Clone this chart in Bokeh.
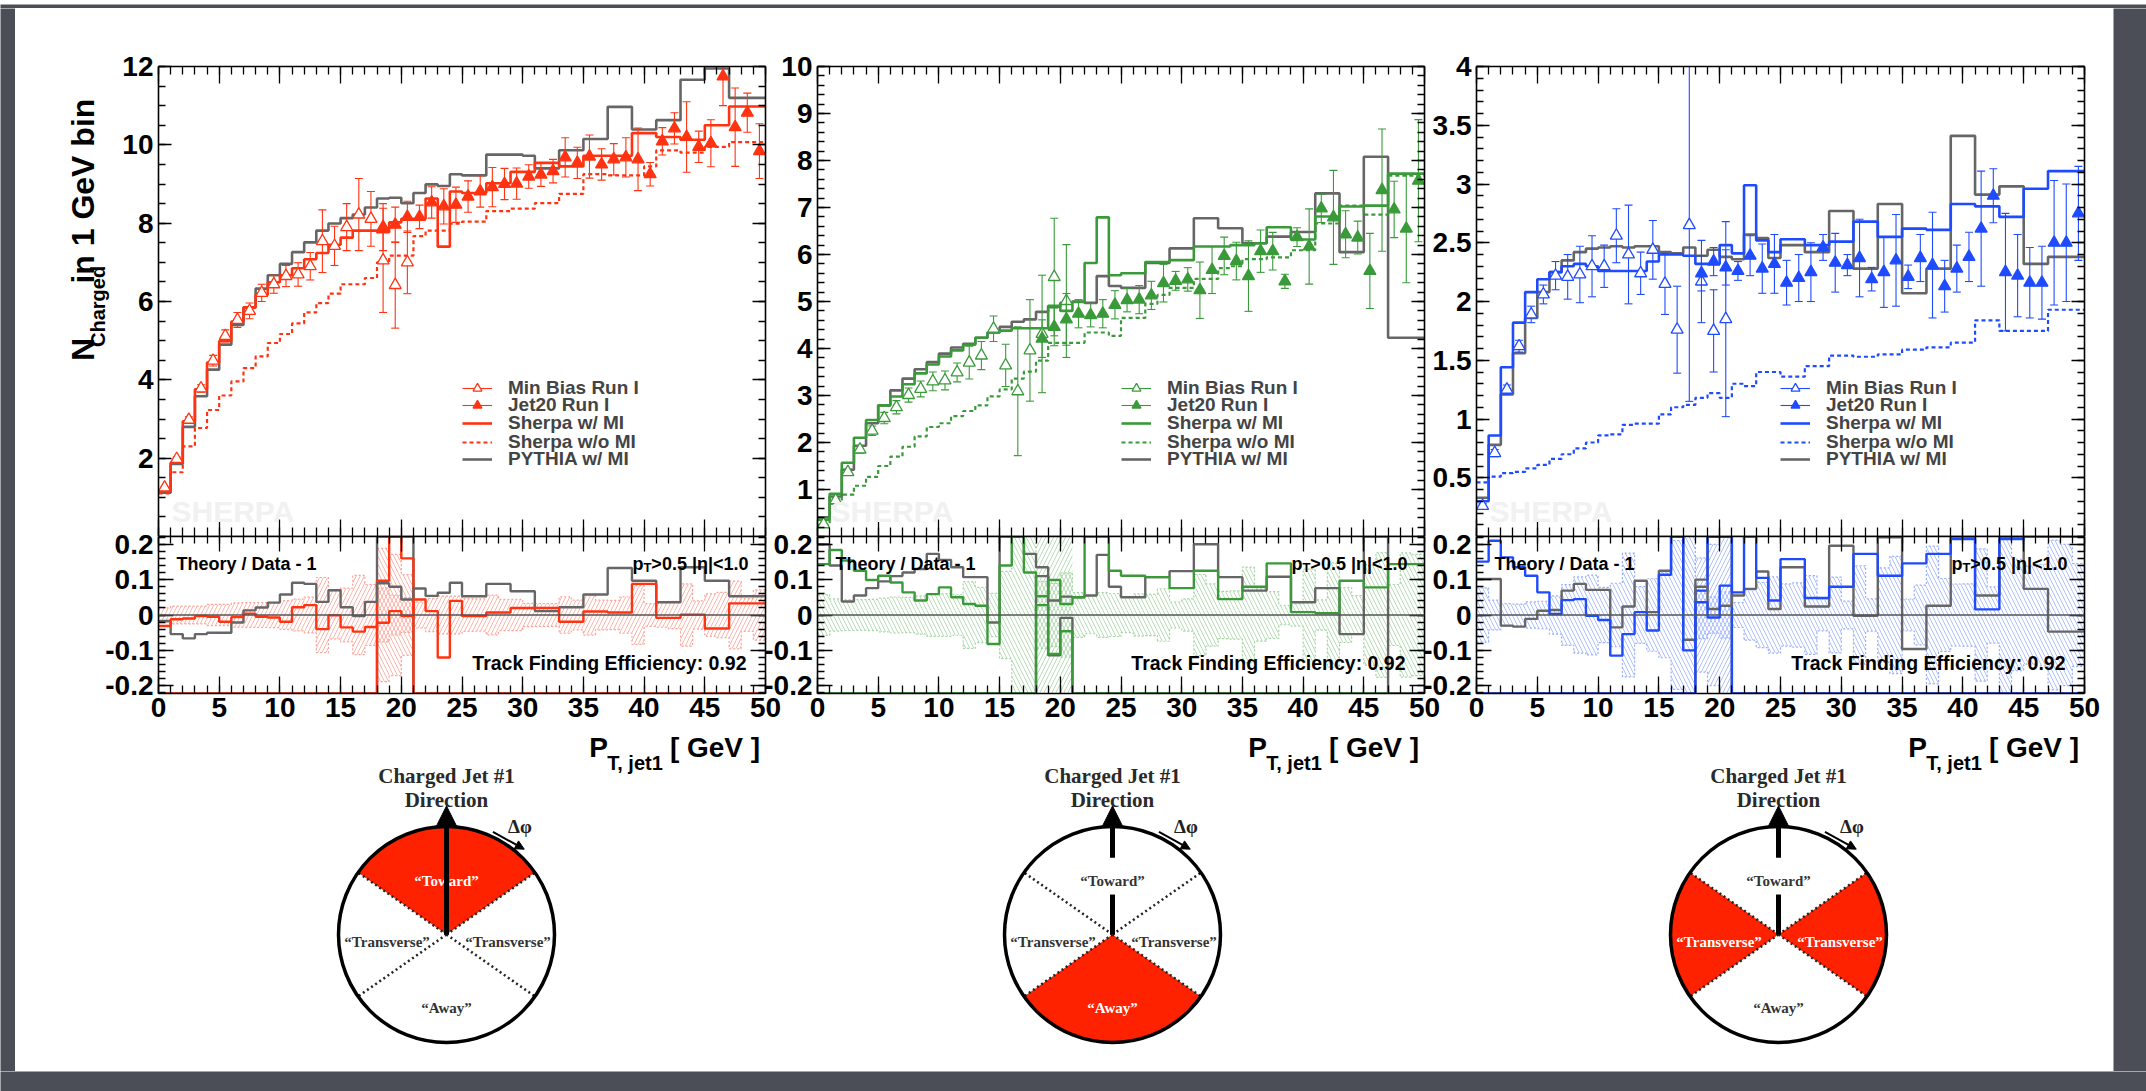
import numpy as np
from bokeh.plotting import figure
from bokeh.models import (Range1d, LinearAxis, FixedTicker, Label, Legend, LegendItem,
                          Span, Arrow, NormalHead, Spacer)
from bokeh.layouts import row, column
from bokeh.embed import file_html
from bokeh.resources import INLINE
from bokeh.core.properties import value

# ---------------------------------------------------------------- data
pt_edges = [0, 1, 2, 3, 4, 5, 6, 7, 8, 9, 10, 11, 12, 13, 14, 15, 16, 17, 18, 19, 20,
            21, 22, 23, 24, 25, 26, 27, 28, 29, 30, 31, 32, 33, 34, 35, 36, 37, 38, 39, 40,
            41, 42, 43, 44, 45, 46, 47, 48, 49, 50]
mb_pt = [0.5, 1.5, 2.5, 3.5, 4.5, 5.5, 6.5, 7.5, 8.5, 9.5, 10.5, 11.5, 12.5, 13.5, 14.5,
         15.5, 16.5, 17.5, 18.5, 19.5, 20.5]
j20_pt = [18.5, 19.5, 20.5, 21.5, 22.5, 23.5, 24.5, 25.5, 26.5, 27.5, 28.5, 29.5, 30.5,
          31.5, 32.5, 33.5, 34.5, 35.5, 36.5, 37.5, 38.5, 39.5, 40.5, 41.5, 42.5, 43.5,
          44.5, 45.5, 46.5, 47.5, 48.5, 49.5]

x_ticks = [0, 5, 10, 15, 20, 25, 30, 35, 40, 45, 50]
x_tick_labels = ["0", "5", "10", "15", "20", "25", "30", "35", "40", "45", "50"]
ratio_ticks = [-0.2, -0.1, 0, 0.1, 0.2]
ratio_tick_labels = ["-0.2", "-0.1", "0", "0.1", "0.2"]
p1_y_ticks = [2, 4, 6, 8, 10, 12]
p1_y_labels = ["2", "4", "6", "8", "10", "12"]
p2_y_ticks = [1, 2, 3, 4, 5, 6, 7, 8, 9, 10]
p2_y_labels = ["1", "2", "3", "4", "5", "6", "7", "8", "9", "10"]
p3_y_ticks = [0.5, 1, 1.5, 2, 2.5, 3, 3.5, 4]
p3_y_labels = ["0.5", "1", "1.5", "2", "2.5", "3", "3.5", "4"]

legend_labels = ["Min Bias Run I", "Jet20 Run I", "Sherpa w/ MI", "Sherpa w/o MI", "PYTHIA w/ MI"]
y_title = ["N", "Charged", "in 1 GeV bin"]
x_title = ["P", "T, jet1", "[ GeV ]"]

region_keys = ["Toward", "Transverse", "Away", "Transverse"]
region_texts = ["\u201cToward\u201d", "\u201cTransverse\u201d", "\u201cAway\u201d", "\u201cTransverse\u201d"]
region_start_deg = [35, 145, 215, -35]
region_end_deg = [145, 215, 325, 35]
divider_deg = [35, 145, 215, 325]
panel_region = ["Toward", "Away", "Transverse"]

# ---- panel 1 (Toward, red)
p1_sherpa_mi = [1.16, 1.89, 2.94, 3.76, 4.44, 4.99, 5.49, 5.85, 6.17, 6.49,
                6.67, 6.85, 7.08, 7.24, 7.45, 7.63, 7.81, 7.81, 7.77, 8.02,
                8.11, 8.11, 8.63, 7.40, 8.81, 8.77, 8.77, 9.02, 9.02, 9.31,
                9.31, 9.54, 9.54, 9.45, 9.45, 9.72, 9.72, 9.72, 9.72, 10.30,
                10.30, 10.20, 10.20, 10.13, 10.13, 10.50, 10.50, 10.98, 10.98, 10.98]
p1_sherpa_nomi = [1.10, 1.64, 2.30, 2.77, 3.23, 3.60, 3.96, 4.30, 4.60, 4.94,
                  5.17, 5.44, 5.72, 5.96, 6.20, 6.44, 6.44, 6.60, 7.00, 7.17,
                  7.17, 7.67, 7.81, 7.81, 7.99, 8.04, 8.04, 8.31, 8.31, 8.37,
                  8.37, 8.51, 8.51, 8.75, 8.75, 9.25, 9.25, 9.22, 9.22, 9.22,
                  9.45, 9.86, 9.86, 9.80, 9.80, 9.95, 9.95, 10.07, 10.07, 10.07]
p1_pythia = [1.12, 1.85, 2.80, 3.58, 4.26, 4.90, 5.40, 5.85, 6.33, 6.67,
             6.96, 7.26, 7.51, 7.81, 7.99, 8.13, 8.22, 8.40, 8.63, 8.65,
             8.51, 8.77, 8.99, 8.95, 9.25, 9.22, 9.22, 9.75, 9.75, 9.75,
             9.72, 9.40, 9.40, 9.86, 9.86, 10.15, 10.15, 10.97, 10.97, 10.39,
             10.39, 10.63, 10.63, 11.66, 11.66, 11.95, 11.95, 11.20, 11.20, 11.20]
p1_mb = [1.25, 1.98, 2.98, 3.78, 4.49, 5.12, 5.53, 5.76, 6.22, 6.44, 6.65, 6.69, 6.90,
         7.54, 7.42, 7.90, 8.22, 8.11, 7.05, 6.42, 7.00]
p1_mb_err = [0.025, 0.05, 0.075, 0.095, 0.135, 0.155, 0.19, 0.20, 0.22, 0.23, 0.27, 0.30,
             0.35, 0.80, 0.50, 0.60, 0.92, 0.70, 1.33, 1.10, 0.80]
p1_j20 = [7.90, 7.96, 8.16, 8.16, 8.53, 8.43, 8.47, 8.68, 8.81, 8.92, 9.00, 9.01, 9.19,
          9.24, 9.33, 9.68, 9.54, 9.70, 9.50, 9.63, 9.68, 9.63, 9.25, 10.09, 10.42, 10.20,
          9.95, 10.04, 11.75, 10.45, 10.82, 9.84]
p1_j20_err = [0.60, 0.45, 0.40, 0.30, 0.40, 0.45, 0.45, 0.40, 0.40, 0.50, 0.40, 0.40, 0.30,
              0.30, 0.30, 0.50, 0.40, 0.55, 0.40, 0.40, 0.50, 0.80, 0.30, 0.35, 0.40, 0.90,
              0.40, 0.60, 0.75, 1.00, 0.50, 0.70]
p1_ratio_sherpa = [-0.031, -0.012, -0.010, -0.003, -0.005, -0.019, -0.006, 0.004, -0.005, -0.007,
                   -0.019, 0.022, 0.028, -0.040, -0.001, -0.035, -0.047, -0.034, -0.022, 0.011,
                   -0.003, 0.044, 0.011, -0.120, 0.040, -0.003, -0.003, 0.007, 0.007, 0.020,
                   0.020, 0.020, 0.020, -0.019, -0.019, 0.010, 0.010, 0.007, 0.007, 0.088,
                   0.088, -0.008, -0.008, 0.001, 0.001, -0.038, -0.038, 0.033, 0.033, 0.033]
p1_ratio_pythia = [-0.017, -0.054, -0.066, -0.054, -0.050, -0.050, -0.021, 0.013, 0.021, 0.035,
                   0.058, 0.091, 0.088, 0.037, 0.070, 0.022, -0.003, 0.037, 0.090, 0.080,
                   0.044, 0.075, 0.054, 0.063, 0.091, 0.053, 0.053, 0.088, 0.088, 0.067,
                   0.067, 0.011, 0.011, 0.022, 0.022, 0.058, 0.058, 0.133, 0.133, 0.097,
                   0.097, 0.036, 0.036, 0.135, 0.135, 0.097, 0.097, 0.053, 0.053, 0.053]
p1_overlap_sherpa = [0.097, 0.30, 0.16]
p1_overlap_pythia = [0.30, 0.30, 0.30]

# ---- panel 2 (Away, green)
p2_sherpa_mi = [0.36, 0.91, 1.57, 2.10, 2.48, 2.79, 2.98, 3.24, 3.47, 3.66,
                3.83, 3.96, 4.08, 4.23, 4.34, 4.38, 4.43, 4.43, 4.43, 4.91,
                4.80, 4.99, 5.82, 6.79, 5.56, 5.60, 5.60, 5.84, 5.84, 5.88,
                5.88, 6.17, 6.17, 6.17, 6.20, 6.20, 6.24, 6.58, 6.58, 6.32,
                6.32, 6.81, 6.81, 7.02, 7.02, 7.04, 7.04, 7.72, 7.72, 7.72]
p2_sherpa_nomi = [0.24, 0.70, 0.89, 1.08, 1.27, 1.50, 1.70, 1.91, 2.13, 2.33,
                  2.41, 2.56, 2.67, 2.79, 2.98, 3.13, 3.36, 3.51, 3.74, 4.12,
                  4.12, 4.12, 4.34, 4.34, 4.27, 4.65, 4.65, 4.95, 5.14, 5.29,
                  5.29, 5.48, 5.48, 5.71, 5.75, 5.90, 5.90, 5.94, 5.94, 6.09,
                  6.09, 6.66, 6.66, 7.04, 7.04, 6.85, 6.85, 7.68, 7.68, 7.68]
p2_pythia = [0.41, 0.85, 1.42, 1.93, 2.41, 2.79, 3.11, 3.36, 3.56, 3.71,
             3.89, 4.02, 4.10, 4.23, 4.34, 4.46, 4.57, 4.62, 4.78, 4.89,
             4.97, 5.00, 4.97, 5.54, 5.33, 5.29, 5.29, 5.82, 5.82, 6.13,
             6.13, 6.77, 6.77, 6.56, 6.56, 6.24, 6.24, 6.38, 6.38, 6.48,
             6.48, 7.30, 7.30, 6.05, 6.05, 8.08, 8.08, 4.23, 4.23, 4.23]
p2_mb = [0.26, 0.77, 1.37, 1.85, 2.25, 2.52, 2.75, 3.01, 3.14, 3.30, 3.32, 3.49, 3.70,
         3.85, 4.42, 3.64, 3.09, 3.96, 4.31, 5.52, 5.01]
p2_mb_err = [0.015, 0.035, 0.06, 0.08, 0.10, 0.12, 0.14, 0.15, 0.17, 0.20, 0.20, 0.20,
             0.35, 0.30, 0.27, 0.45, 1.37, 1.08, 1.25, 1.25, 1.20]
p2_j20 = [4.21, 4.46, 4.62, 4.74, 4.71, 4.74, 4.93, 5.03, 5.04, 5.13, 5.39, 5.44, 5.47,
          5.24, 5.67, 5.97, 5.86, 5.54, 6.07, 6.07, 5.43, 6.37, 6.17, 6.98, 6.79, 6.43,
          6.36, 5.65, 7.37, 6.96, 6.55, 7.57]
p2_j20_err = [0.40, 0.40, 0.55, 0.30, 0.25, 0.30, 0.30, 0.25, 0.30, 0.30, 0.40, 0.20, 0.25,
              0.60, 0.50, 0.40, 0.40, 0.75, 0.45, 0.40, 0.15, 0.20, 0.80, 0.30, 1.00, 0.50,
              0.35, 0.80, 1.30, 0.60, 1.15, 1.30]
p2_ratio_sherpa = [0.144, 0.184, 0.154, 0.125, 0.099, 0.111, 0.092, 0.064, 0.041, 0.059,
                   0.078, 0.050, 0.031, 0.026, -0.082, 0.140, 0.30, 0.12, 0.053, 0.099,
                   0.031, 0.050, 0.30, 0.30, 0.125, 0.111, 0.111, 0.107, 0.107, 0.076,
                   0.076, 0.125, 0.125, 0.045, 0.045, 0.080, 0.080, 0.146, 0.146, 0.008,
                   0.008, 0.005, 0.005, 0.097, 0.097, 0.078, 0.078, 0.144, 0.144, 0.144]
p2_ratio_pythia = [0.20, 0.14, 0.038, 0.055, 0.076, 0.095, 0.11, 0.12, 0.13, 0.173,
                   0.156, 0.135, 0.107, 0.107, -0.021, 0.30, 0.30, 0.173, 0.135, 0.041,
                   0.052, 0.050, 0.055, 0.170, 0.080, 0.050, 0.050, 0.107, 0.107, 0.124,
                   0.124, 0.20, 0.20, 0.107, 0.107, 0.069, 0.069, 0.108, 0.108, 0.036,
                   0.036, 0.076, 0.076, -0.054, -0.054, 0.30, 0.30, -0.50, -0.50, -0.50]
p2_overlap_sherpa = [0.028, -0.110, -0.046]
p2_overlap_pythia = [0.110, -0.114, -0.008]

# ---- panel 3 (Transverse, blue)
p3_sherpa_mi = [0.30, 0.86, 1.44, 1.82, 2.08, 2.19, 2.25, 2.30, 2.32, 2.30,
                2.26, 2.26, 2.26, 2.26, 2.34, 2.40, 2.40, 2.39, 2.32, 2.32,
                2.48, 2.41, 2.99, 2.52, 2.42, 2.53, 2.53, 2.48, 2.48, 2.51,
                2.51, 2.68, 2.68, 2.55, 2.55, 2.62, 2.62, 2.61, 2.61, 2.83,
                2.83, 2.81, 2.81, 2.72, 2.72, 2.96, 2.96, 3.11, 3.11, 3.11]
p3_sherpa_nomi = [0.46, 0.51, 0.54, 0.55, 0.58, 0.61, 0.66, 0.70, 0.75, 0.80,
                  0.86, 0.87, 0.95, 0.96, 0.96, 1.04, 1.10, 1.12, 1.18, 1.22,
                  1.18, 1.30, 1.28, 1.40, 1.40, 1.36, 1.36, 1.45, 1.45, 1.54,
                  1.54, 1.53, 1.53, 1.55, 1.55, 1.59, 1.59, 1.61, 1.61, 1.65,
                  1.65, 1.84, 1.84, 1.75, 1.75, 1.75, 1.75, 1.93, 1.93, 1.93]
p3_pythia = [0.33, 0.78, 1.21, 1.56, 1.86, 2.08, 2.25, 2.35, 2.42, 2.45,
             2.46, 2.47, 2.46, 2.47, 2.47, 2.42, 2.41, 2.46, 2.39, 2.44,
             2.38, 2.36, 2.57, 2.54, 2.37, 2.48, 2.48, 2.42, 2.42, 2.77,
             2.77, 2.28, 2.28, 2.83, 2.83, 2.07, 2.07, 2.28, 2.28, 3.41,
             3.41, 2.91, 2.91, 2.98, 2.98, 2.32, 2.32, 2.38, 2.38, 2.38]
p3_mb = [0.26, 0.71, 1.25, 1.62, 1.89, 2.06, 2.22, 2.21, 2.23, 2.30, 2.30, 2.56, 2.40,
         2.24, 2.44, 2.15, 1.76, 2.65, 2.17, 1.75, 1.85]
p3_mb_err = [0.02, 0.03, 0.04, 0.05, 0.07, 0.08, 0.12, 0.19, 0.24, 0.26, 0.18, 0.23, 0.42,
             0.18, 0.25, 0.26, 0.37, 1.50, 0.35, 0.35, 0.83]
p3_j20 = [2.24, 2.34, 2.29, 2.26, 2.39, 2.28, 2.32, 2.16, 2.20, 2.25, 2.46, 2.33, 2.31,
          2.37, 2.19, 2.25, 2.35, 2.21, 2.37, 2.31, 2.13, 2.28, 2.38, 2.62, 2.90, 2.25,
          2.22, 2.16, 2.16, 2.50, 2.50, 2.75]
p3_j20_err = [0.15, 0.12, 0.15, 0.08, 0.17, 0.21, 0.25, 0.19, 0.20, 0.25, 0.11, 0.25, 0.09,
              0.33, 0.10, 0.30, 0.39, 0.10, 0.20, 0.45, 0.22, 0.20, 0.21, 0.49, 0.23, 0.50,
              0.35, 0.30, 0.31, 0.53, 0.50, 0.40]
p3_ratio_sherpa = [0.151, 0.21, 0.163, 0.135, 0.111, 0.064, 0.003, 0.042, 0.045, -0.002,
                   -0.014, -0.115, -0.054, 0.008, -0.044, 0.114, 0.30, -0.10, 0.036, -0.007,
                   0.083, 0.064, 0.30, 0.105, 0.041, 0.158, 0.158, 0.048, 0.048, 0.080,
                   0.080, 0.173, 0.173, 0.111, 0.111, 0.146, 0.146, 0.173, 0.173, 0.215,
                   0.215, 0.016, 0.016, 0.215, 0.215, 0.30, 0.30, 0.30, 0.30, 0.30]
p3_ratio_pythia = [0.102, 0.102, -0.030, -0.033, -0.011, 0.012, 0.014, 0.069, 0.088, 0.071,
                   0.071, -0.035, 0.024, 0.097, 0.008, 0.125, 0.30, -0.070, 0.080, 0.017,
                   0.026, 0.055, 0.074, 0.123, 0.017, 0.135, 0.135, 0.024, 0.024, 0.196,
                   0.196, -0.002, -0.002, 0.22, 0.22, -0.096, -0.096, 0.026, 0.026, 0.30,
                   0.30, 0.055, 0.055, 0.30, 0.30, 0.074, 0.074, -0.047, -0.047, -0.047]
p3_overlap_sherpa = [0.069, 0.30, 0.30]
p3_overlap_pythia = [0.100, 0.30, 0.29]

# ---------------------------------------------------------------- style
DARK = "#4b4e56"
GRAY = "#666666"
FONT = "Liberation Sans"
SERIF = "Liberation Serif"
RATIO_LO, RATIO_HI = -0.222, 0.222
x_minor = list(range(0, 51))
ratio_minor = [round(-0.22 + 0.02 * k, 2) for k in range(0, 23)]

MAIN_H, MAIN_TOP = 528, 58
RATIO_TOP = 12            # overlaps the main panel so the "0.2" label is not cut
RATIO_H, RATIO_BOTTOM = 195 + RATIO_TOP, 38
BOTTOM_H = 340
YTITLE_W = 100
DIAG_W = 248
XT_W = 186
LEGEND_ROW_Y = [148, 131, 113, 94, 77]   # row centres, px above the frame bottom
LEGEND_ROW_H = 22

panels = [
    dict(color="#ff3311", light="#ffa194", ymax=12, yt=p1_y_ticks, yl=p1_y_labels,
         ym=[round(v * 0.5, 2) for v in range(0, 25)],
         mi=p1_sherpa_mi, nomi=p1_sherpa_nomi, py=p1_pythia, mb=p1_mb, mb_err=p1_mb_err,
         j20=p1_j20, j20_err=p1_j20_err, r_mi=p1_ratio_sherpa, r_py=p1_ratio_pythia,
         o_mi=p1_overlap_sherpa, o_py=p1_overlap_pythia, hatch="/", hatch2="\\",
         L=143, R=30, FW=607, margin=None),
    dict(color="#3a9a3a", light="#a3d6a3", ymax=10, yt=p2_y_ticks, yl=p2_y_labels,
         ym=[round(v * 0.2, 2) for v in range(0, 51)],
         mi=p2_sherpa_mi, nomi=p2_sherpa_nomi, py=p2_pythia, mb=p2_mb, mb_err=p2_mb_err,
         j20=p2_j20, j20_err=p2_j20_err, r_mi=p2_ratio_sherpa, r_py=p2_ratio_pythia,
         o_mi=p2_overlap_sherpa, o_py=p2_overlap_pythia, hatch="\\", hatch2="/",
         L=60, R=30, FW=607, margin=(0, 0, 0, -38)),
    dict(color="#1f4bff", light="#98aeff", ymax=4, yt=p3_y_ticks, yl=p3_y_labels,
         ym=[round(v * 0.1, 2) for v in range(0, 41)],
         mi=p3_sherpa_mi, nomi=p3_sherpa_nomi, py=p3_pythia, mb=p3_mb, mb_err=p3_mb_err,
         j20=p3_j20, j20_err=p3_j20_err, r_mi=p3_ratio_sherpa, r_py=p3_ratio_pythia,
         o_mi=p3_overlap_sherpa, o_py=p3_overlap_pythia, hatch="\\", hatch2="/",
         L=60, R=29, FW=608, margin=(0, 0, 0, -38)),
]


def tick_overrides(ticks, labels):
    return {(int(t) if float(t).is_integer() else t): s for t, s in zip(ticks, labels)}


def make_axis(ticks, minor, major_in, minor_in, labels=None, standoff=5):
    ax = LinearAxis(ticker=FixedTicker(ticks=ticks, minor_ticks=minor))
    ax.axis_line_color = "black"
    ax.axis_line_width = 1.6
    ax.major_tick_in = major_in
    ax.major_tick_out = 0
    ax.minor_tick_in = minor_in
    ax.minor_tick_out = 0
    ax.major_tick_line_color = "black"
    ax.major_tick_line_width = 1.3
    ax.minor_tick_line_color = "black"
    ax.minor_tick_line_width = 1.3
    if labels is None:
        ax.major_label_text_font_size = "0px"
        ax.major_label_text_color = None
        ax.major_label_standoff = 0
    else:
        ax.major_label_overrides = tick_overrides(ticks, labels)
        ax.major_label_text_font = FONT
        ax.major_label_text_font_style = "bold"
        ax.major_label_text_font_size = "28px"
        ax.major_label_text_color = "black"
        ax.major_label_standoff = standoff
    return ax


def bare_fig(width, height, xr, yr, bg=None):
    f = figure(width=width, height=height, x_range=Range1d(*xr), y_range=Range1d(*yr),
               x_axis_location=None, y_axis_location=None, toolbar_location=None,
               output_backend="svg", min_border=0)
    f.grid.grid_line_color = None
    f.outline_line_color = None
    f.background_fill_color = bg
    f.border_fill_color = bg
    return f


def base_fig(width, height, ymin, ymax, L, R, T, B):
    p = figure(width=width, height=height, x_range=Range1d(0, 50), y_range=Range1d(ymin, ymax),
               x_axis_location=None, y_axis_location=None, toolbar_location=None,
               output_backend="svg", min_border_left=L, min_border_right=R,
               min_border_top=T, min_border_bottom=B)
    p.grid.grid_line_color = None
    p.outline_line_color = None
    p.border_fill_color = None
    p.background_fill_color = "white"
    return p


def steps(vals):
    return list(vals) + [vals[-1]]


def clip(vals):
    return [min(max(v, RATIO_LO), RATIO_HI) for v in vals]


def text(p, x, y, s, dx, dy, size, align="left", color="black", angle=0.0):
    p.add_layout(Label(x=x, y=y, x_offset=dx, y_offset=dy, text=s, text_font=FONT,
                       text_font_size=size, text_font_style="bold", text_align=align,
                       text_baseline="middle", text_color=color, angle=angle))


def make_main(P, i):
    L, R, FW = P["L"], P["R"], P["FW"]
    if i == 0:
        L -= YTITLE_W
    c = P["color"]
    p = base_fig(L + FW + R, MAIN_H, 0, P["ymax"], L, R, MAIN_TOP, 0)
    p.add_layout(make_axis(x_ticks, x_minor, 17, 8), "above")
    p.add_layout(make_axis(x_ticks, x_minor, 17, 9), "below")
    p.add_layout(make_axis(P["yt"], P["ym"], 13, 7, P["yl"]), "left")
    p.add_layout(make_axis(P["yt"], P["ym"], 13, 7), "right")

    text(p, 0, 0, "SHERPA", 13, 25, "30px", color="#f1f1f1")

    r_py = p.step(pt_edges, steps(P["py"]), mode="after", line_color=GRAY, line_width=2.6)
    r_nomi = p.step(pt_edges, steps(P["nomi"]), mode="after", line_color=c, line_width=2.2,
                    line_dash="4 3")
    r_mi = p.step(pt_edges, steps(P["mi"]), mode="after", line_color=c, line_width=2.6)

    def points(x, y, e, fill):
        lo = [a - b for a, b in zip(y, e)]
        hi = [a + b for a, b in zip(y, e)]
        seg = p.segment(x0=x, y0=lo, x1=x, y1=hi, line_color=c, line_width=1.1)
        p.scatter(x=list(x) + list(x), y=lo + hi, marker="dash", size=8, line_color=c,
                  line_width=1.1)
        sc = p.scatter(x=x, y=y, marker="triangle", size=12, line_color=c, line_width=1.3,
                       fill_color=fill)
        return seg, sc

    mb_seg, mb_sc = points(mb_pt, P["mb"], P["mb_err"], "white")
    j_seg, j_sc = points(j20_pt, P["j20"], P["j20_err"], c)

    entries = [[mb_seg, mb_sc], [j_seg, j_sc], [r_mi], [r_nomi], [r_py]]
    for lab, rends, yc in zip(legend_labels, entries, LEGEND_ROW_Y):
        leg = Legend(items=[LegendItem(label=value(lab), renderers=rends)],
                     location=(304, yc - LEGEND_ROW_H / 2), orientation="vertical",
                     padding=0, margin=0, spacing=0, glyph_width=30,
                     glyph_height=LEGEND_ROW_H, label_height=LEGEND_ROW_H,
                     label_standoff=16, label_text_font=FONT, label_text_font_style="bold",
                     label_text_font_size="19px", background_fill_alpha=0,
                     border_line_alpha=0)
        p.add_layout(leg)
    return p


def make_ytitle():
    # pixel-unit canvas for the rotated y-axis title of the first panel
    t = bare_fig(YTITLE_W, MAIN_H, (0, YTITLE_W), (0, MAIN_H))
    a = np.pi / 2
    text(t, 67.5, 210, y_title[0], 0, 0, "32px", align="center", angle=a)
    text(t, 82, 258.5, y_title[1], 0, 0, "20px", align="center", angle=a)
    text(t, 67.5, 388, y_title[2], 0, 0, "32px", align="center", angle=a)
    return t


def make_xtitle():
    # pixel-unit canvas holding the x-axis title under a ratio panel
    t = bare_fig(XT_W, BOTTOM_H, (0, XT_W), (0, BOTTOM_H))
    t.text(x=[131.5, 15], y=[324, 324], text=[x_title[2], x_title[0]],
           text_font=value(FONT), text_font_style="bold", text_font_size="28px",
           text_color="black", text_align="center", text_baseline="middle")
    t.text(x=[51.5], y=[309], text=[x_title[1]],
           text_font=value(FONT), text_font_style="bold", text_font_size="20px",
           text_color="black", text_align="center", text_baseline="middle")
    return t


def make_ratio(P, i):
    L, R, FW = P["L"], P["R"], P["FW"]
    c = P["color"]
    p = base_fig(L + FW + R, RATIO_H, RATIO_LO, RATIO_HI, L, R, RATIO_TOP, RATIO_BOTTOM)
    p.margin = (-RATIO_TOP, 0, 0, 0)
    p.add_layout(make_axis(x_ticks, x_minor, 15, 7), "above")
    p.add_layout(make_axis(x_ticks, x_minor, 17, 8, x_tick_labels, standoff=4), "below")
    p.add_layout(make_axis(ratio_ticks, ratio_minor, 15, 7, ratio_tick_labels), "left")
    p.add_layout(make_axis(ratio_ticks, ratio_minor, 15, 7), "right")

    mb_rel = [e / v for v, e in zip(P["mb"], P["mb_err"])]
    j_rel = [e / v for v, e in zip(P["j20"], P["j20_err"])]
    band_a = mb_rel[:18] + j_rel
    band_b = mb_rel[18:]
    p.quad(left=pt_edges[:-1], right=pt_edges[1:], bottom=[-b for b in band_a], top=band_a,
           fill_color=None, line_color=None, hatch_pattern=P["hatch"], hatch_color=P["light"],
           hatch_weight=0.8, hatch_scale=8)
    p.quad(left=pt_edges[18:21], right=pt_edges[19:22], bottom=[-b for b in band_b],
           top=band_b, fill_color=None, line_color=None, hatch_pattern=P["hatch2"],
           hatch_color=P["light"], hatch_weight=0.8, hatch_scale=8)
    for sgn in (1, -1):
        p.step(pt_edges, steps([sgn * b for b in band_a]), mode="after", line_color=P["light"],
               line_width=1.2, line_dash="2 2")
        p.step(pt_edges[18:22], steps([sgn * b for b in band_b]), mode="after",
               line_color=P["light"], line_width=1.2, line_dash="2 2")

    p.add_layout(Span(location=0, dimension="width", line_color="#555555", line_width=1.6))

    empty_lo = [-1.0] * 18
    empty_hi = [-1.0] * 29
    p.step(pt_edges, steps(clip(empty_lo + P["o_py"] + empty_hi)), mode="after",
           line_color=GRAY, line_width=2.4)
    p.step(pt_edges, steps(clip(empty_lo + P["o_mi"] + empty_hi)), mode="after",
           line_color=c, line_width=2.4)
    p.step(pt_edges, steps(clip(P["r_py"])), mode="after", line_color=GRAY, line_width=2.4)
    p.step(pt_edges, steps(clip(P["r_mi"])), mode="after", line_color=c, line_width=2.4)

    text(p, 0, RATIO_HI, "Theory / Data - 1", 18, -27, "18px")
    text(p, 50, RATIO_HI, ">0.5 |\u03b7|<1.0", -17, -27, "18px", align="right")
    text(p, 50, RATIO_HI, "T", -114, -31, "13px", align="right")
    text(p, 50, RATIO_HI, "p", -122, -27, "18px", align="right")
    text(p, 50, RATIO_LO, "Track Finding Efficiency: 0.92", -19, 31, "19.5px", align="right")
    return p


def make_diagram(region):
    half = DIAG_W / 2 / 108.0
    d = bare_fig(DIAG_W, BOTTOM_H, (-half, half), (-137 / 108.0, 203 / 108.0))
    for key, s, e in zip(region_keys, region_start_deg, region_end_deg):
        if key == region:
            d.wedge(x=0, y=0, radius=1, start_angle=np.radians(s), end_angle=np.radians(e),
                    fill_color="#ff2200", line_color=None)
    ang = np.radians(divider_deg)
    d.segment(x0=[0] * 4, y0=[0] * 4, x1=list(np.cos(ang)), y1=list(np.sin(ang)),
              line_color="#222222", line_width=2.5, line_dash="2 3")
    d.circle(x=0, y=0, radius=1, fill_color=None, line_color="black", line_width=3.5)
    head = NormalHead(size=20, fill_color="black", line_color="black")
    if region == "Toward":
        d.add_layout(Arrow(end=head, x_start=0, y_start=0, x_end=0, y_end=1.19,
                           line_width=5, line_color="black"))
    else:
        d.segment(x0=[0], y0=[0], x1=[0], y1=[0.37], line_color="black", line_width=5)
        d.add_layout(Arrow(end=head, x_start=0, y_start=0.71, x_end=0, y_end=1.19,
                           line_width=5, line_color="black"))
    d.add_layout(Arrow(end=NormalHead(size=9, fill_color="black", line_color="black"),
                       x_start=0.43, y_start=0.95, x_end=0.72, y_end=0.79,
                       line_width=2, line_color="black"))
    d.text(x=[0.68], y=[1.0], text=["\u0394\u03c6"], text_font=value(SERIF),
           text_font_style="bold", text_font_size="19px", text_color="#222222",
           text_align="center", text_baseline="middle")
    d.text(x=[0, 0], y=[1.47, 1.25], text=["Charged Jet #1", "Direction"],
           text_font=value(SERIF), text_font_style="bold", text_font_size="21px",
           text_color="#2a2a2a", text_align="center", text_baseline="middle")
    lab_x = [0, -0.55, 0, 0.57]
    lab_y = [0.5, -0.07, -0.68, -0.07]
    cols = ["white" if k == region else "#333333" for k in region_keys]
    d.text(x=lab_x, y=lab_y, text=region_texts, text_font=value(SERIF),
           text_font_style="bold", text_font_size="15px", text_color=cols,
           text_align="center", text_baseline="middle")
    return d


def dark_block(w, h):
    return bare_fig(w, h, (0, 1), (0, 1), bg=DARK)


cols = []
for i, P in enumerate(panels):
    main = make_main(P, i)
    top = row(make_ytitle(), main, spacing=0) if i == 0 else main
    col = column(top, make_ratio(P, i), spacing=0)
    if P["margin"] is not None:
        col.margin = P["margin"]
    cols.append(col)
panel_row = row(*cols, spacing=0)


def gap(w):
    return Spacer(width=w, height=BOTTOM_H)


bottom_row = row(gap(307), make_diagram(panel_region[0]), gap(13), make_xtitle(),
                 gap(219), make_diagram(panel_region[1]), gap(6), make_xtitle(),
                 gap(226), make_diagram(panel_region[2]), make_xtitle(), gap(25), spacing=0)

content = column(panel_row, bottom_row, spacing=0)
root = column(dark_block(2146, 8),
              row(dark_block(15, 1063), content, dark_block(33, 1063), spacing=0),
              dark_block(2146, 20), spacing=0)

open("out.html", "w").write(file_html(root, INLINE))
